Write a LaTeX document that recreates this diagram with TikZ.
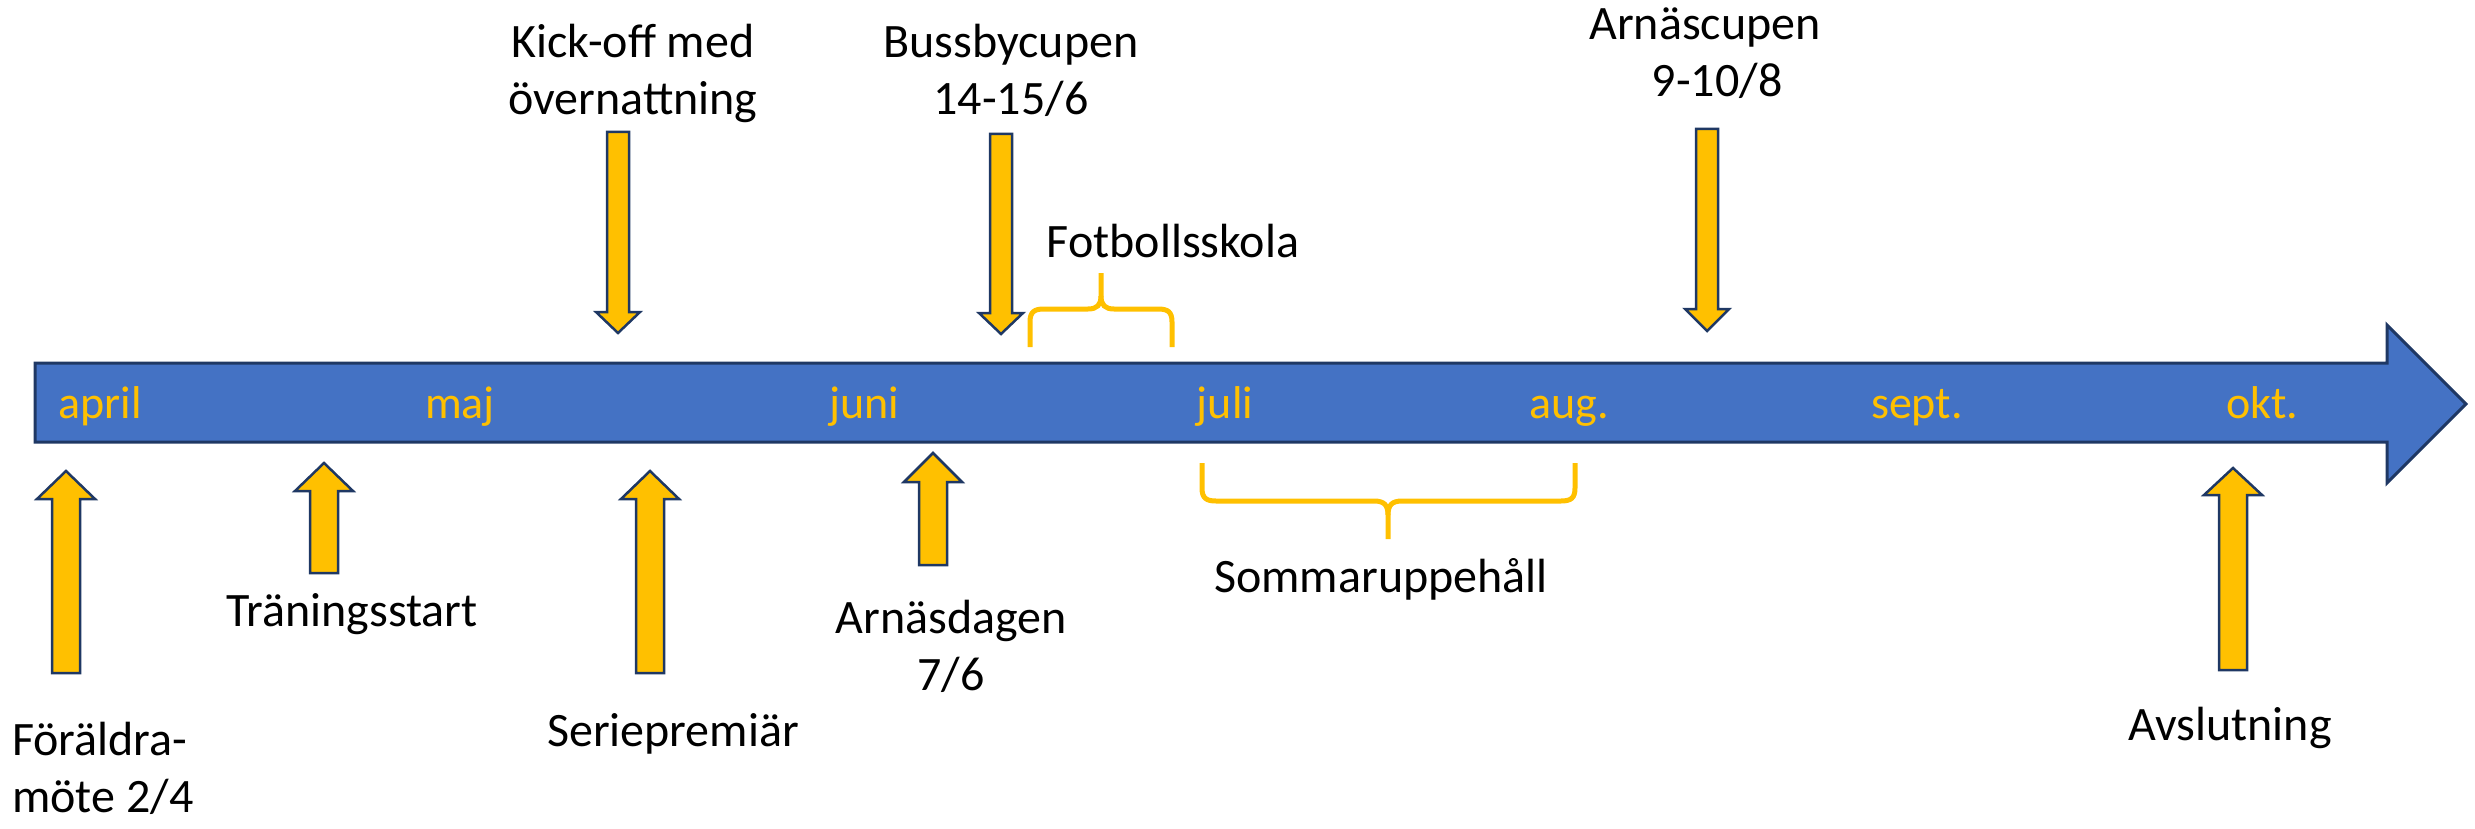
\documentclass[tikz,border=0pt]{standalone}
\usepackage{fontspec}
\setmainfont{Carlito}
\definecolor{tlblue}{HTML}{4472C4}
\definecolor{tlnavy}{HTML}{1F3864}
\definecolor{tlgold}{HTML}{FFC000}
\tikzset{
  bigarrow/.style={fill=tlblue, draw=tlnavy, line width=3pt, line join=miter},
  blockarrow/.style={fill=tlgold, draw=tlnavy, line width=2.5pt, line join=miter},
  brace/.style={draw=tlgold, line width=5pt},
  month/.style={text=tlgold, anchor=base, inner sep=0pt, font=\fontsize{46}{56}\selectfont},
  lbl/.style={text=black, anchor=base, inner sep=0pt, align=center, font=\fontsize{48}{57}\selectfont},
}
% up arrow: #1 cx, #2 tip y, #3 head base y, #4 bottom y
\newcommand{\uparr}[4]{\draw[blockarrow] (#1,#2) -- (#1+29,#3) -- (#1+14,#3) -- (#1+14,#4) -- (#1-14,#4) -- (#1-14,#3) -- (#1-29,#3) -- cycle;}
% down arrow: #1 cx, #2 top y, #3 head base y, #4 tip y
\newcommand{\dnarr}[4]{\draw[blockarrow] (#1-11,#2) -- (#1+11,#2) -- (#1+11,#3) -- (#1+22,#3) -- (#1,#4) -- (#1-22,#3) -- (#1-11,#3) -- cycle;}
\begin{document}
\begin{tikzpicture}[x=1pt,y=-1pt]
\useasboundingbox (0,0) rectangle (2475,829);
% main timeline arrow
\draw[bigarrow] (35,363) -- (2387,363) -- (2387,325) -- (2466,404) -- (2387,483) -- (2387,442) -- (35,442) -- cycle;
% months
\node[month] (apr) at (100,418) {april};
\node[month] (maj) at (460,418) {maj};
\node[month] (jun) at (864,418) {juni};
\node[month] (jul) at (1225,418) {juli};
\node[month] (aug) at (1569,418) {aug.};
\node[month] (sep) at (1917,418) {sept.};
\node[month] (okt) at (2262,418) {okt.};
% up arrows
\uparr{66}{471}{499}{673}
\uparr{324}{463}{491}{573}
\uparr{650}{471}{499}{673}
\uparr{933}{453}{482}{565}
\uparr{2233}{468}{495}{670}
% down arrows
\dnarr{618}{132}{312}{333}
\dnarr{1001}{134}{313}{334}
\dnarr{1707}{129}{309}{331}
% braces
\draw[brace] (1030,347) -- (1030,322) .. controls (1030,312) and (1034,309) .. (1044,309) -- (1088,309) .. controls (1097,309) and (1101,305) .. (1101,296) -- (1101,273);
\draw[brace] (1101,296) .. controls (1101,305) and (1105,309) .. (1114,309) -- (1158,309) .. controls (1168,309) and (1172,312) .. (1172,322) -- (1172,347);
\draw[brace] (1202,463) -- (1202,488) .. controls (1202,498) and (1206,501) .. (1216,501) -- (1374,501) .. controls (1384,501) and (1388,505) .. (1388,515) -- (1388,539);
\draw[brace] (1388,515) .. controls (1388,505) and (1392,501) .. (1402,501) -- (1561,501) .. controls (1571,501) and (1575,498) .. (1575,488) -- (1575,463);
% labels (multi-line nodes: base = baseline of last line)
\node[lbl, anchor=base west, align=left] (forald) at (12,812) {Föräldra-\\möte 2/4};
\node[lbl] (tran) at (352,626) {Träningsstart};
\node[lbl] (serie) at (673,746) {Seriepremiär};
\node[lbl] (kick) at (633,115) {Kick-off med\\övernattning};
\node[lbl] (buss) at (1011,115) {Bussbycupen\\14-15/6};
\node[lbl] (arnd) at (951,690) {Arnäsdagen\\7/6};
\node[lbl] (fotb) at (1173,257) {Fotbollsskola};
\node[lbl] (somm) at (1381,592) {Sommaruppehåll};
\node[lbl] (arnc) at (1705,97) {Arnäscupen\\\hphantom{0}9-10/8};
\node[lbl] (avsl) at (2230,740) {Avslutning};
\end{tikzpicture}
\end{document}
